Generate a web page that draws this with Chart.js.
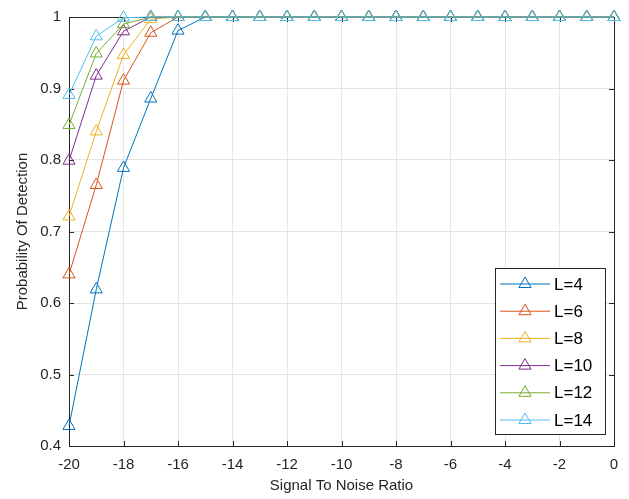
<!DOCTYPE html>
<html>
<head>
<meta charset="utf-8">
<script src="https://cdn.jsdelivr.net/npm/chart.js@4/dist/chart.umd.min.js"></script>
<style>
  html, body { margin: 0; padding: 0; background: #fff; }
  #wrap { width: 629px; height: 499px; }
</style>
</head>
<body>
<div id="wrap"><canvas id="grafico-pd" width="629" height="499"></canvas></div>
<script>
// Probabilidade de detecção x SNR
var snr = [-20, -19, -18, -17, -16, -15, -14, -13, -12, -11, -10, -9, -8, -7, -6, -5, -4, -3, -2, -1, 0];
var legendas = ["L=4", "L=6", "L=8", "L=10", "L=12", "L=14"];
var cores = ["#0072BD", "#D95319", "#EDB120", "#7E2F8E", "#77AC30", "#4DBEEE"];

var pdL4  = [0.428, 0.619, 0.789, 0.886, 0.981, 1, 1, 1, 1, 1, 1, 1, 1, 1, 1, 1, 1, 1, 1, 1, 1];
var pdL6  = [0.640, 0.765, 0.911, 0.978, 1, 1, 1, 1, 1, 1, 1, 1, 1, 1, 1, 1, 1, 1, 1, 1, 1];
var pdL8  = [0.721, 0.840, 0.947, 0.997, 1, 1, 1, 1, 1, 1, 1, 1, 1, 1, 1, 1, 1, 1, 1, 1, 1];
var pdL10 = [0.799, 0.918, 0.980, 1, 1, 1, 1, 1, 1, 1, 1, 1, 1, 1, 1, 1, 1, 1, 1, 1, 1];
var pdL12 = [0.849, 0.949, 0.990, 1, 1, 1, 1, 1, 1, 1, 1, 1, 1, 1, 1, 1, 1, 1, 1, 1, 1];
var pdL14 = [0.891, 0.973, 0.999, 1, 1, 1, 1, 1, 1, 1, 1, 1, 1, 1, 1, 1, 1, 1, 1, 1, 1];

var series = [pdL4, pdL6, pdL8, pdL10, pdL12, pdL14];
var fonte = "'Liberation Sans', Arial, sans-serif";

var datasets = series.map(function (vals, i) {
  return {
    label: legendas[i],
    data: vals.map(function (v, j) { return { x: snr[j], y: v }; }),
    borderColor: cores[i],
    backgroundColor: "rgba(255,255,255,0)",
    borderWidth: 1,
    pointStyle: "triangle",
    pointRadius: 7,
    pointBorderWidth: 1,
    pointBackgroundColor: "rgba(255,255,255,0)",
    pointBorderColor: cores[i],
    fill: false,
    tension: 0,
    clip: false,
    order: series.length - i, // a última série fica por cima, como no MATLAB
  };
});

// moldura, ticks internos e legenda estilo MATLAB
var estiloMatlab = {
  id: "estiloMatlab",
  beforeDatasetsDraw: function (chart) {
    var c = chart.ctx;
    var a = chart.chartArea;
    var sx = chart.scales.x, sy = chart.scales.y;
    c.save();
    c.strokeStyle = "#262626";
    c.lineWidth = 1;
    c.strokeRect(Math.round(a.left) + 0.5, Math.round(a.top) + 0.5, Math.round(a.right - a.left), Math.round(a.bottom - a.top));
    c.beginPath();
    sx.ticks.forEach(function (t) {
      var px = Math.round(sx.getPixelForValue(t.value)) + 0.5;
      c.moveTo(px, a.bottom); c.lineTo(px, a.bottom - 5);
      c.moveTo(px, a.top); c.lineTo(px, a.top + 5);
    });
    sy.ticks.forEach(function (t) {
      var py = Math.round(sy.getPixelForValue(t.value)) + 0.5;
      c.moveTo(a.left, py); c.lineTo(a.left + 5, py);
      c.moveTo(a.right, py); c.lineTo(a.right - 5, py);
    });
    c.stroke();
    c.restore();
  },
  afterDraw: function (chart) {
    var c = chart.ctx;
    c.save();
    // legenda
    var bx = 495, by = 268, bw = 110, bh = 166;
    c.fillStyle = "#fff";
    c.fillRect(bx, by, bw, bh);
    c.strokeStyle = "#262626";
    c.lineWidth = 1;
    c.strokeRect(bx + 0.5, by + 0.5, bw, bh);
    c.font = "17px " + fonte;
    c.textBaseline = "middle";
    chart.data.datasets.forEach(function (ds, i) {
      var yy = by + 16 + i * 27.2;
      c.strokeStyle = ds.borderColor;
      c.fillStyle = "rgba(255,255,255,0)";
      c.lineWidth = 1;
      c.beginPath();
      c.moveTo(500, yy); c.lineTo(550, yy);
      c.stroke();
      Chart.helpers.drawPoint(c, { pointStyle: "triangle", radius: 7, borderWidth: 1 }, 525, yy);
      c.fillStyle = "#000";
      c.fillText(ds.label, 554, yy + 1);
    });
    c.restore();
  },
};

var ctx = document.getElementById("grafico-pd").getContext("2d");

var grafico = new Chart(ctx, {
  type: "line",
  data: { datasets: datasets },
  options: {
    responsive: false,
    animation: false,
    layout: { padding: { top: 14, right: 15, left: 0, bottom: 0 } },
    plugins: {
      legend: { display: false },
      tooltip: { enabled: false },
    },
    scales: {
      x: {
        type: "linear",
        min: -20,
        max: 0,
        ticks: { stepSize: 2, color: "#262626", font: { size: 15, family: fonte }, padding: 10, maxRotation: 0 },
        grid: { color: "#e5e5e5", drawTicks: false },
        border: { color: "#262626" },
        title: { display: true, text: "Signal To Noise Ratio", color: "#262626", font: { size: 15, family: fonte }, padding: { top: 11 } },
        afterFit: function (s) { s.height = 53; },
      },
      y: {
        min: 0.4,
        max: 1,
        ticks: {
          stepSize: 0.1,
          color: "#262626",
          font: { size: 15, family: fonte },
          padding: 8,
          callback: function (v) { return Math.round(v * 10) / 10; },
        },
        grid: { color: "#e5e5e5", drawTicks: false },
        border: { color: "#262626" },
        title: { display: true, text: "Probability Of Detection", color: "#262626", font: { size: 15, family: fonte }, padding: { bottom: 4, top: 14 } },
        afterFit: function (s) { s.width = 69; },
      },
    },
  },
  plugins: [estiloMatlab],
});
</script>
</body>
</html>
